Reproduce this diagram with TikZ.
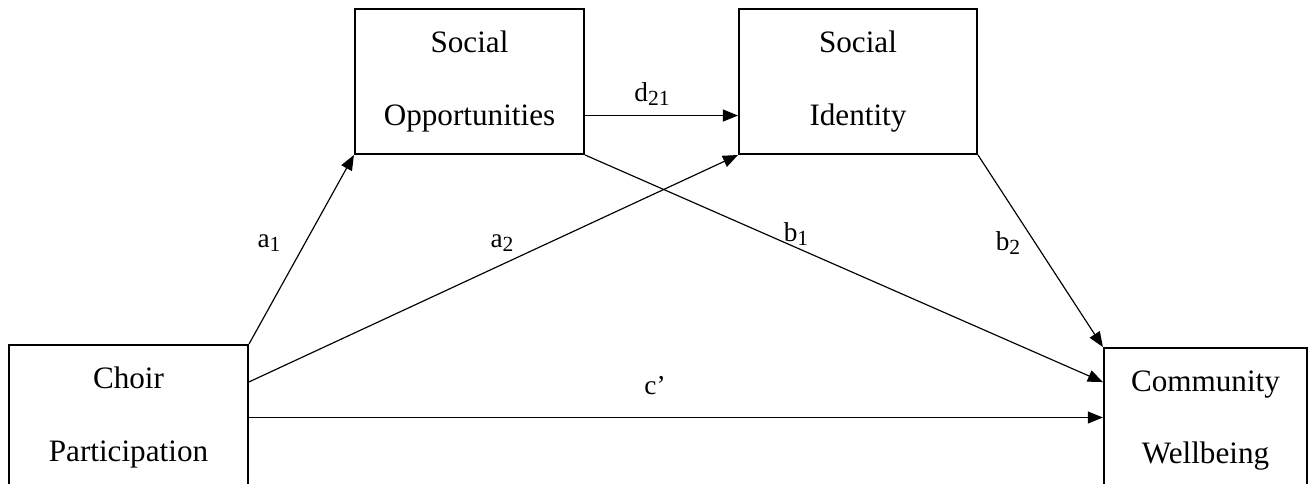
\documentclass[tikz,border=0pt]{standalone}
\usepackage{fontspec}
\setmainfont{Liberation Serif}
\usetikzlibrary{arrows.meta}
\newcommand{\lsub}[1]{\raisebox{-0.35ex}{\fontsize{8.3}{9}\selectfont #1}}

\begin{document}
\begin{tikzpicture}[x=0.385pt, y=-0.385pt,
  var/.style={draw, line width=0.8pt, minimum height=55.8pt, inner sep=0pt, align=center, font=\fontsize{12}{28}\selectfont},
  link/.style={line width=0.45pt, -{Triangle[length=5.8pt,width=4.6pt]}},
  coef/.style={inner sep=0pt, font=\fontsize{10.5}{12}\selectfont}]
  \clip (0,0) rectangle (1309,483);
  % variables
  \node[var, minimum width=92pt] (choir) at (128.5,417.5) {Choir\\Participation};
  \node[var, minimum width=88.2pt] (opp) at (469.5,81.5) {Social\\Opportunities};
  \node[var, minimum width=91.6pt] (ident) at (858,81.5) {Social\\Identity};
  \node[var, minimum width=78.2pt] (comm) at (1205.5,420.5) {Community\\Wellbeing};
  % paths
  \draw[link] (choir.north east) -- (opp.south west);
  \draw[link] ([yshift=13.7pt]choir.east) -- (ident.south west);
  \draw[link] (choir.east) -- (choir.east -| comm.west);
  \draw[link] ([yshift=-13.1pt]opp.east) -- ([yshift=-13.1pt]opp.east -| ident.west);
  \draw[link] (opp.south east) -- ([yshift=14.8pt]comm.west);
  \draw[link] (ident.south east) -- (comm.north west);
  % coefficients
  \node[coef] (a1) at (269,243) {a\lsub{1}};
  \node[coef] (a2) at (502,243) {a\lsub{2}};
  \node[coef] (b1) at (796,234) {b\lsub{1}};
  \node[coef] (b2) at (1008,243) {b\lsub{2}};
  \node[coef] (d21) at (652,94) {d\lsub{21}};
  \node[coef] (c) at (655,386) {c’};
\end{tikzpicture}
\end{document}
